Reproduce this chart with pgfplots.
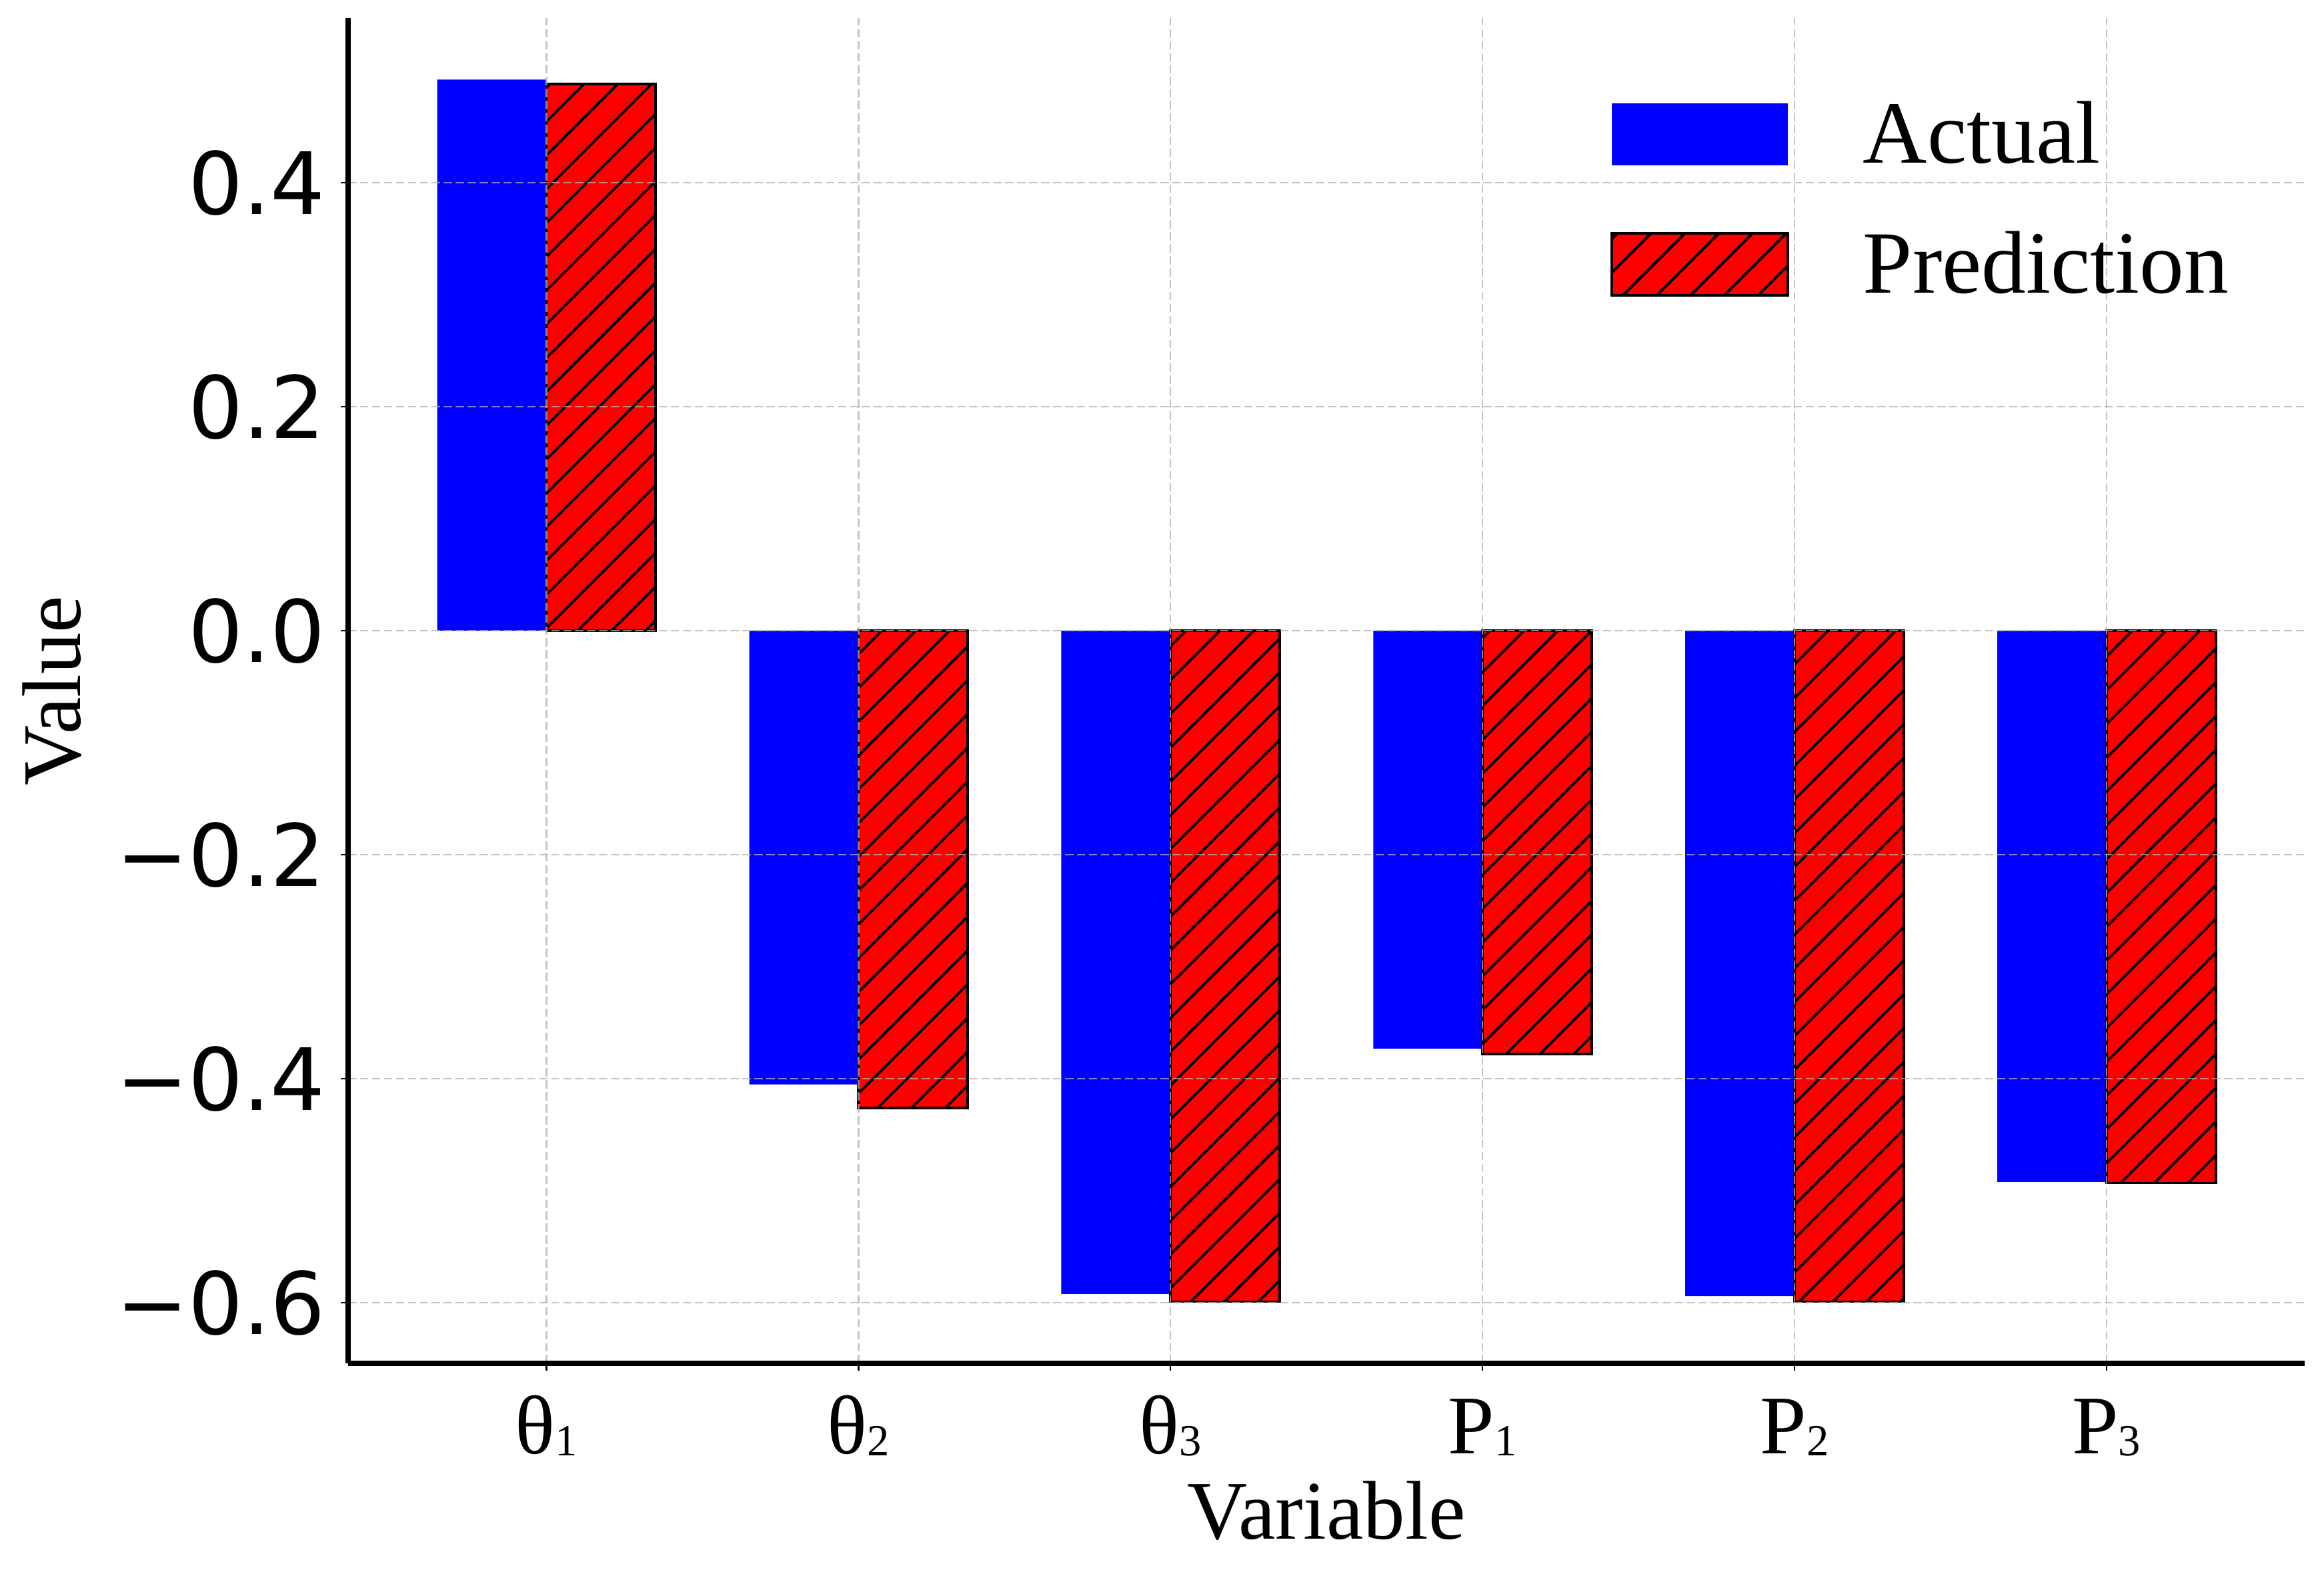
\documentclass[border=0pt]{standalone}
\usepackage{fontspec}
\setmainfont{Liberation Serif}
\newfontfamily\dejavu{DejaVu Sans}
\usepackage{pgfplots}
\usepackage{pgfplotstable}
\pgfplotsset{compat=1.18}
\usetikzlibrary{patterns.meta}

\definecolor{gridgray}{RGB}{176,176,176}
\newcommand\sub[1]{\raisebox{-0.6pt}{\fontsize{16}{16}\selectfont #1}}
\tikzset{hatchfill/.style={pattern={Lines[angle=45,distance=8.6pt,line width=0.9pt]},pattern color=black}}

\pgfplotstableread{
x actual pred
0  0.492  0.488
1 -0.405 -0.426
2 -0.592 -0.599
3 -0.373 -0.378
4 -0.594 -0.599
5 -0.492 -0.493
}\datatable

\begin{document}
\begin{tikzpicture}
\path[use as bounding box] (-125.3pt,-78pt) rectangle (711.1pt,490.8pt);
\begin{axis}[
  scale only axis, width=704.2pt, height=484.3pt,
  xmin=-0.6355, xmax=5.6355, ymin=-0.654, ymax=0.547,
  axis lines=left, axis line style={-, line width=1.8pt},
  axis on top,
  xtick={0,1,2,3,4,5},
  xticklabels={θ\sub{1},θ\sub{2},θ\sub{3},P\sub{1},P\sub{2},P\sub{3}},
  ytick={-0.6,-0.4,-0.2,0,0.2,0.4},
  yticklabels={−0.6,−0.4,−0.2,0.0,0.2,0.4},
  tick align=outside, major tick length=2.6pt,
  tick style={line width=0.6pt, black},
  xticklabel style={font=\fontsize{30}{36}\selectfont, anchor=base, inner sep=0pt, yshift=-30pt},
  yticklabel style={font=\dejavu\fontsize{31}{37}\selectfont, anchor=east, inner sep=0pt, xshift=-5.4pt},
  grid=major,
  major grid style={gridgray, opacity=0.75, line width=0.6pt, dash pattern=on 3pt off 1.3pt},
  xlabel={Variable}, ylabel={Value},
  xlabel style={font=\fontsize{30}{36}\selectfont, at={(axis description cs:0.5,-0.1305)}, anchor=base, inner sep=0pt},
  ylabel style={font=\fontsize{30}{36}\selectfont, at={(axis description cs:-0.1667,0.5)}, anchor=north, inner sep=0pt},
  legend style={draw=none, fill=none, at={(0.6449,0.9386)}, anchor=north west,
    inner sep=0pt, row sep=23.1pt, column sep=26.6pt,
    font=\fontsize{32}{38}\selectfont, nodes={inner sep=0pt}},
  legend cell align=left,
]
\addplot[ybar, bar width=0.35, bar shift=-0.175, fill=blue, draw=none,
  legend image code/.code={\fill[blue] (0pt,-11.15pt) rectangle (63.4pt,11.15pt);}]
  table[x=x, y=actual]{\datatable};
\addplot[ybar, bar width=0.35, bar shift=0.175, fill=red, draw=black, line width=0.9pt,
  postaction={hatchfill},
  legend image code/.code={\draw[fill=red, draw=black, line width=0.9pt, postaction={hatchfill}] (0pt,-11.15pt) rectangle (63.4pt,11.15pt);}]
  table[x=x, y=pred]{\datatable};
\legend{Actual, Prediction}
\end{axis}
\end{tikzpicture}
\end{document}
